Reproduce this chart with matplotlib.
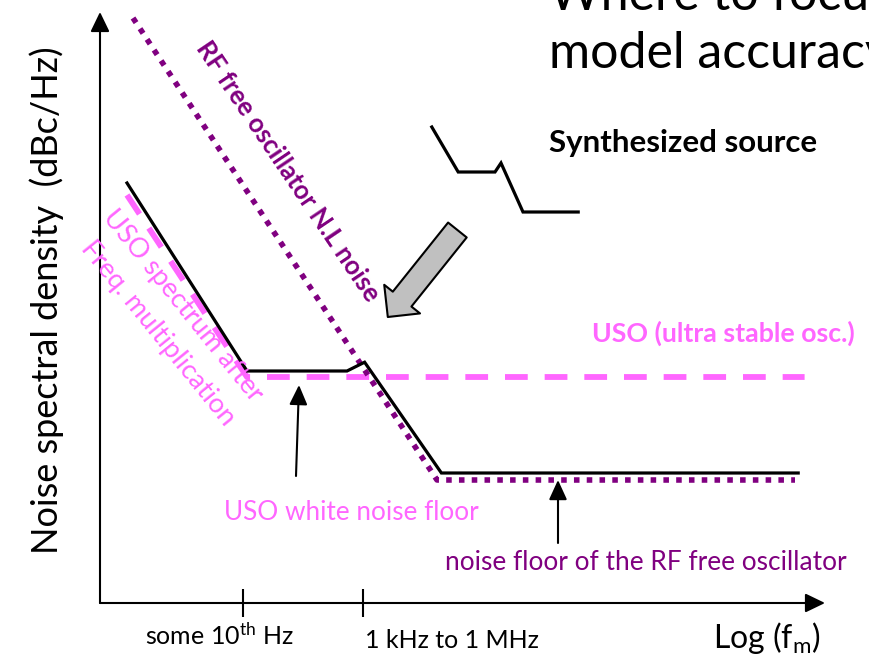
import matplotlib
matplotlib.use("Agg")
import matplotlib.pyplot as plt

plt.rcParams['font.family'] = ['Lato', 'DejaVu Sans']
plt.rcParams['mathtext.fontset'] = 'custom'
plt.rcParams['mathtext.rm'] = 'Lato'
plt.rcParams['mathtext.it'] = 'Lato:italic'
plt.rcParams['mathtext.bf'] = 'Lato:bold'

# ---- data (x: log10 of offset frequency, y: noise level in dBc/Hz, schematic) ----
synth_x = [0.05, 1.55, 2.80, 3.02, 3.98, 8.44]          # synthesized source (black)
synth_y = [-65.0, -112.0, -112.0, -109.8, -137.5, -137.5]
uso_x = [0.05, 1.55, 8.52]                               # USO after multiplication (magenta dashed)
uso_y = [-68.0, -113.5, -113.5]
rf_x = [0.125, 3.925, 8.40]                              # RF free oscillator (purple dotted)
rf_y = [-23.75, -139.25, -139.25]
icon_x = [3.86, 4.19, 4.65, 4.725, 5.00, 5.69]           # small synthesized-source sketch
icon_y = [-51.0, -62.25, -62.25, -60.0, -72.25, -72.25]
tick_pos = [1.5, 3.0]
tick_labels = ['some 10$^{\\rm th}$ Hz', '1 kHz to 1 MHz']

MAGENTA = '#FF66FF'
PURPLE = '#800080'

W, H = 870, 659
fig = plt.figure(figsize=(W / 100, H / 100), dpi=100)
ax = fig.add_axes([100 / W, (H - 603) / H, 725 / W, 591 / H])
ax.set_xlim(-0.2875, 8.775)
ax.set_ylim(-170, -22.25)
ax.patch.set_alpha(0)
for s in ax.spines.values():
    s.set_visible(False)

def P(px, py):
    return (px / W, 1 - py / H)

# axes with arrows
ax.annotate('', xy=(1, 0), xytext=(0, 0), xycoords='axes fraction', textcoords='axes fraction',
            arrowprops=dict(arrowstyle='-|>,head_length=1.2,head_width=0.58', mutation_scale=10,
                            lw=1.5, color='black', shrinkA=0, shrinkB=0))
ax.annotate('', xy=(0, 1), xytext=(0, 0), xycoords='axes fraction', textcoords='axes fraction',
            arrowprops=dict(arrowstyle='-|>,head_length=1.2,head_width=0.58', mutation_scale=10,
                            lw=1.5, color='black', shrinkA=0, shrinkB=0))

ax.set_xticks(tick_pos)
ax.set_xticklabels(['', ''])
ax.set_yticks([])
ax.tick_params(axis='x', direction='inout', length=20, width=1.5, color='black')

# curves
ax.plot(uso_x, uso_y, color=MAGENTA, lw=4.2, dashes=(3.9, 2.9), solid_capstyle='butt',
        dash_capstyle='butt', zorder=2)
ax.plot(rf_x, rf_y, color=PURPLE, lw=4.0, dashes=(1.0, 1.3), dash_capstyle='butt', zorder=3)
ax.plot(synth_x, synth_y, color='black', lw=2.3, zorder=4, solid_joinstyle='miter')
ax.plot(icon_x, icon_y, color='black', lw=2.3, zorder=4, solid_joinstyle='miter')

# grey fat arrow
ax.annotate('', xy=(3.31, -98.5), xytext=(4.18, -76.75),
            arrowprops=dict(arrowstyle='simple,head_length=0.5,head_width=1.0,tail_width=0.52',
                            mutation_scale=33, fc='#C0C0C0', ec='black', lw=1.5,
                            shrinkA=0, shrinkB=0), zorder=5)

# pointer arrows
ax.annotate('', xy=(2.2, -115.5), xytext=(2.1625, -138.25),
            arrowprops=dict(arrowstyle='-|>,head_length=1.2,head_width=0.55', mutation_scale=10,
                            lw=1.5, color='black', shrinkA=0, shrinkB=0))
ax.annotate('', xy=(5.4375, -139.25), xytext=(5.4375, -155),
            arrowprops=dict(arrowstyle='-|>,head_length=1.2,head_width=0.55', mutation_scale=10,
                            lw=1.5, color='black', shrinkA=0, shrinkB=0))

# texts
fig.text(*P(220, 636), tick_labels[0], fontsize=18, ha='center', va='center')
fig.text(*P(365, 640), tick_labels[1], fontsize=18, ha='left', va='center')
fig.text(*P(767, 638), 'Log (f$_{\\rm m}$)', fontsize=23, ha='center', va='center')
fig.text(*P(47, 300), 'Noise spectral density  (dBc/Hz)', fontsize=26, rotation=90,
         ha='center', va='center')

fig.text(*P(549, 68), 'Where to focus\nmodel accuracy', fontsize=36, ha='left', va='baseline',
         linespacing=1.33)
fig.text(*P(549, 143), 'Synthesized source', fontsize=22.5, fontweight='bold', ha='left', va='center')
fig.text(*P(288, 171), 'RF free oscillator N.L noise', fontsize=18.5, fontweight='bold',
         color=PURPLE, rotation=-56, ha='center', va='center', rotation_mode='anchor')
fig.text(*P(592, 333), 'USO (ultra stable osc.)', fontsize=19.3, fontweight='bold',
         color=MAGENTA, ha='left', va='center')
fig.text(*P(183, 306), 'USO spectrum after', fontsize=19.5, color=MAGENTA,
         rotation=-51, ha='center', va='center', rotation_mode='anchor')
fig.text(*P(158, 333), 'Freq. multiplication', fontsize=19.5, color=MAGENTA,
         rotation=-51, ha='center', va='center', rotation_mode='anchor')
fig.text(*P(224, 513), 'USO white noise floor', fontsize=18.8, color=MAGENTA, ha='left', va='center')
fig.text(*P(445, 563), 'noise floor of the RF free oscillator', fontsize=18.9, color=PURPLE,
         ha='left', va='center')

fig.savefig('out.png', dpi=100)
